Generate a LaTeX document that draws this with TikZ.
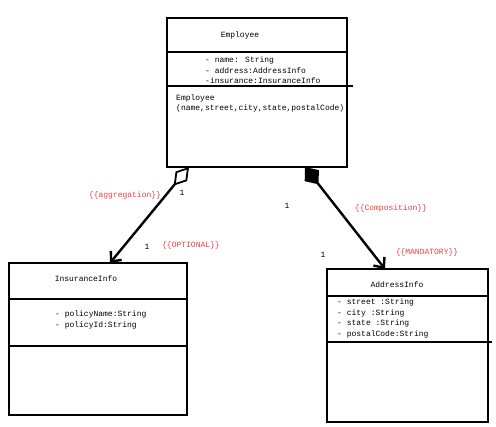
\documentclass[tikz,border=0pt]{standalone}
\usepackage{fontspec}
\setmainfont{Liberation Mono}
\usetikzlibrary{arrows.meta}
\definecolor{notered}{RGB}{232,64,72}
\begin{document}
\begin{tikzpicture}[x=1pt,y=-1pt,
        umlbox/.style={draw, line width=2.5pt, inner sep=0pt},
        divider/.style={line width=2pt},
        assoc/.style={line width=2.4pt},
        txt/.style={inner sep=0pt, align=left, font=\fontsize{8}{10.4}\selectfont},
        note/.style={txt, text=notered}]
    \useasboundingbox (0,0) rectangle (496,427);
    % classes
    \node[umlbox, minimum width=180pt, minimum height=149pt] (emp) at (257,92.5) {};
    \node[umlbox, minimum width=178pt, minimum height=152pt] (ins) at (98,339) {};
    \node[umlbox, minimum width=161pt, minimum height=153pt] (addr) at (407.5,345.5) {};
    \draw[divider] ([yshift=-35pt]emp.north west) -- ([yshift=-35pt]emp.north east);
    \draw[divider] ([yshift=-69pt]emp.north west) -- ([yshift=-69pt,xshift=5pt]emp.north east);
    \draw[divider] ([yshift=-37pt]ins.north west) -- ([yshift=-37pt]ins.north east);
    \draw[divider] ([yshift=-84pt]ins.north west) -- ([yshift=-84pt]ins.north east);
    \draw[divider] ([yshift=-28pt]addr.north west) -- ([yshift=-28pt]addr.north east);
    \draw[divider] ([yshift=-74pt]addr.north west) -- ([yshift=-74pt,xshift=3pt]addr.north east);
    \node[txt] (empname) at (240,35) {Employee};
    \node[txt, anchor=west] (empattr) at (205,70.5) {- name: String\\- address:AddressInfo\\-insurance:InsuranceInfo};
    \node[txt, anchor=west] (empop) at (176,103.5) {Employee\\(name,street,city,state,postalCode)};
    \node[txt] (insname) at (86,279) {InsuranceInfo};
    \node[txt, anchor=west] (insattr) at (55,320) {- policyName:String\\- policyId:String};
    \node[txt] (addrname) at (397,285) {AddressInfo};
    \node[txt, anchor=west] (addrattr) at (337,318.5) {- street :String\\- city :String\\- state :String\\- postalCode:String};
    % associations
    \coordinate (aggtail) at (189,167);
    \coordinate (agghead) at (110,263);
    \coordinate (comptail) at (305,167);
    \coordinate (comphead) at (385,269);
    \draw[assoc, {Diamond[open, length=24pt, width=15pt, line width=1.8pt]}-{Straight Barb[length=8pt, width=14pt]}] (aggtail) -- (agghead);
    \draw[assoc, {Diamond[length=22pt, width=18pt]}-{Straight Barb[length=8pt, width=14pt]}] (comptail) -- (comphead);
    \node[note] (aggnote) at (125,195) {\{\{aggregation\}\}};
    \node[txt] (aggone) at (182,193) {1};
    \node[txt] (insone) at (147,247) {1};
    \node[note] (optnote) at (191,245) {\{\{OPTIONAL\}\}};
    \node[txt] (compone) at (287,206) {1};
    \node[note] (compnote) at (391,208) {\{\{Composition\}\}};
    \node[note] (mandnote) at (427,252) {\{\{MANDATORY\}\}};
    \node[txt] (addrone) at (323,255) {1};
\end{tikzpicture}
\end{document}
